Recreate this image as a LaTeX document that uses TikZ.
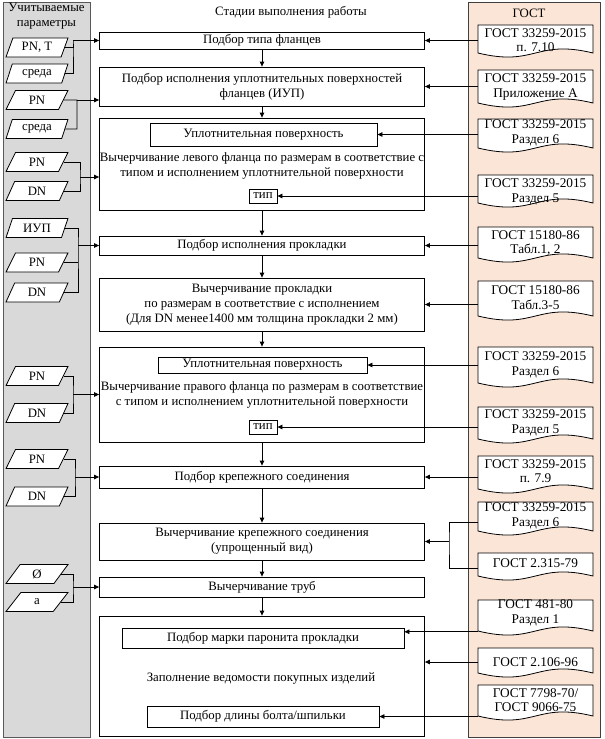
\documentclass[tikz,border=0pt]{standalone}
\usepackage{fontspec}
\setmainfont{Liberation Serif}
\usetikzlibrary{shapes.geometric,arrows.meta,calc}
\definecolor{pgray}{HTML}{D9D9D9}
\definecolor{ppeach}{HTML}{FBE5D6}
\newcommand\gostdoc[5]{%
  \draw[docline] (478,#2) -- (593,#2) -- (593,#3) .. controls (535.5,#3-14) and (535.5,#3+14) .. (478,#3) -- cycle;
  \node[doctext] (#1) at (535.5,#4+0.5) {#5};
}
\begin{document}
\begin{tikzpicture}[x=1pt,y=-1pt,
  font=\fontsize{12.8}{15}\selectfont,
  line width=0.8pt,
  arr/.style={-{Triangle[length=5pt,width=4.5pt]}},
  stage/.style={draw, fill=white, minimum width=325pt, inner sep=0pt, align=center},
  inbox/.style={draw, fill=white, inner sep=0pt, align=center},
  param/.style={trapezium, trapezium left angle=67, trapezium right angle=113, trapezium stretches=true, draw, fill=white, minimum width=62pt, minimum height=19pt, inner sep=0pt},
  doctext/.style={minimum width=115pt, inner sep=0pt, align=center, font=\fontsize{13.3}{14.5}\selectfont},
  docline/.style={draw, fill=white},
  panel/.style={draw, inner sep=0pt},
]
\useasboundingbox (0,0) rectangle (605,739);
% panels
\node[panel, fill=pgray, draw=gray!70!black, minimum width=87pt, minimum height=735pt] (lpanel) at (46.5,369.5) {};
\node[panel, fill=ppeach, draw=black!75, minimum width=132pt, minimum height=735pt] (rpanel) at (534,369.5) {};
\node[align=center, inner sep=0pt] (lt) at (46.5,16.5) {Учитываемые\\параметры};
\node[inner sep=0pt] (mt) at (291,12) {Стадии выполнения работы};
\node[inner sep=0pt] (rt) at (529,13) {ГОСТ};
% stages
\node[stage, minimum height=17pt] (b1) at (262,40.5) {Подбор типа фланцев};
\node[stage, minimum height=39pt] (b2) at (262,86.5) {Подбор исполнения уплотнительных поверхностей\\фланцев (ИУП)};
\node[stage, minimum height=92pt] (b3) at (262,164) {};
\node[stage, minimum height=19pt] (b4) at (262,245.5) {Подбор исполнения прокладки};
\node[stage, minimum height=53pt] (b5) at (262,304.5) {Вычерчивание прокладки\\по размерам в соответствие с исполнением\\(Для DN менее1400 мм толщина прокладки 2 мм)};
\node[stage, minimum height=95pt] (b6) at (262,394.5) {};
\node[stage, minimum height=22pt] (b7) at (262,477) {Подбор крепежного соединения};
\node[stage, minimum height=37pt] (b8) at (262,541.5) {Вычерчивание крепежного соединения\\(упрощенный вид)};
\node[stage, minimum height=20pt] (b9) at (262,587) {Вычерчивание труб};
\node[stage, minimum height=120pt] (b10) at (262,676) {};
% inner items
\node[inbox, minimum width=227pt, minimum height=23pt] (u1) at (263.5,134.5) {Уплотнительная поверхность};
\node[align=center, inner sep=0pt] (t3) at (262,165.5) {Вычерчивание левого фланца по размерам в соответствие с\\типом и исполнением уплотнительной поверхности};
\node[inbox, minimum width=28pt, minimum height=14pt] (k1) at (263,196) {тип};
\node[inbox, minimum width=209pt, minimum height=16pt] (u2) at (262.5,365) {Уплотнительная поверхность};
\node[align=center, inner sep=0pt] (t6) at (262,394.5) {Вычерчивание правого фланца по размерам в соответствие\\с типом и исполнением уплотнительной поверхности};
\node[inbox, minimum width=28pt, minimum height=14pt] (k2) at (263,427) {тип};
\node[inbox, minimum width=282pt, minimum height=20pt] (m1) at (263,638) {Подбор марки паронита прокладки};
\node[inner sep=0pt] (t10) at (261,678) {Заполнение ведомости покупных изделий};
\node[inbox, minimum width=232pt, minimum height=21pt] (m2) at (263,716.5) {Подбор длины болта/шпильки};
% stage flow
\foreach \a/\b in {b1/b2,b2/b3,b3/b4,b4/b5,b5/b6,b6/b7,b7/b8,b8/b9,b9/b10}
  \draw[arr] (\a.south) -- (\b.north);
% parameters
\node[param] (p1) at (37,47.5) {PN, T};
\node[param] (p2) at (37,73.5) {среда};
\node[param] (p3) at (37,100) {PN};
\node[param] (p4) at (37,129) {среда};
\node[param] (p5) at (37,162) {PN};
\node[param] (p6) at (37,191) {DN};
\node[param] (p7) at (37,228) {ИУП};
\node[param] (p8) at (37,262.5) {PN};
\node[param] (p9) at (37,292.5) {DN};
\node[param] (p10) at (37,376) {PN};
\node[param] (p11) at (37,413) {DN};
\node[param] (p12) at (37,459) {PN};
\node[param] (p13) at (37,496.5) {DN};
\node[param] (p14) at (37,574) {Ø};
\node[param] (p15) at (37,602) {a};
\coordinate (j1) at (73,40.5);
\coordinate (j2) at (77,100);
\coordinate (j3) at (80,177);
\coordinate (j4) at (78,245.5);
\coordinate (j5) at (73,394.5);
\coordinate (j6) at (75,477);
\coordinate (j7) at (73,587);
\draw (p1.east) -| (j1) |- (p2.east);
\draw[arr] (j1) -- (b1.west |- j1);
\draw (p3.east) -- (j2) |- (p4.east);
\draw[arr] (j2) -- (b2.west |- j2);
\draw (p5.east) -| (j3) |- (p6.east);
\draw[arr] (j3) -- (b3.west |- j3);
\draw (p7.east) -| (j4) |- (p9.east);
\draw (p8.east) -- (p8.east -| j4);
\draw[arr] (j4) -- (b4.west |- j4);
\draw (p10.east) -| (j5) |- (p11.east);
\draw[arr] (j5) -- (b6.west |- j5);
\draw (p12.east) -| (j6) |- (p13.east);
\draw[arr] (j6) -- (b7.west |- j6);
\draw (p14.east) -| (j7) |- (p15.east);
\draw[arr] (j7) -- (b9.west |- j7);
% documents
\gostdoc{d1}{25}{53}{39.5}{ГОСТ 33259-2015\\п. 7.10}
\gostdoc{d2}{70}{103}{86.5}{ГОСТ 33259-2015\\Приложение А}
\gostdoc{d3}{119}{148}{132.5}{ГОСТ 33259-2015\\Раздел 6}
\gostdoc{d4}{175}{203}{191.5}{ГОСТ 33259-2015\\Раздел 5}
\gostdoc{d5}{227}{258}{242.5}{ГОСТ 15180-86\\Табл.1, 2}
\gostdoc{d6}{281}{316}{297}{ГОСТ 15180-86\\Табл.3-5}
\gostdoc{d7}{347}{383}{364.5}{ГОСТ 33259-2015\\Раздел 6}
\gostdoc{d8}{407}{439}{422.5}{ГОСТ 33259-2015\\Раздел 5}
\gostdoc{d9}{456}{489}{470.5}{ГОСТ 33259-2015\\п. 7.9}
\gostdoc{d10}{502}{531}{515.5}{ГОСТ 33259-2015\\Раздел 6}
\gostdoc{d11}{553}{576}{563}{ГОСТ 2.315-79}
\gostdoc{d12}{600}{631}{612.5}{ГОСТ 481-80\\Раздел 1}
\gostdoc{d13}{648}{673}{661.5}{ГОСТ 2.106-96}
\gostdoc{d14}{685}{716}{699.5}{ГОСТ 7798-70/\\ГОСТ 9066-75}
% document connectors
\draw[arr] (d1.west |- b1.east) -- (b1.east);
\draw[arr] (d2.west |- b2.east) -- (b2.east);
\draw[arr] (d3.west |- u1.east) -- (u1.east);
\draw[arr] (d4.west |- k1.east) -- (k1.east);
\draw[arr] (d5.west |- b4.east) -- (b4.east);
\draw[arr] (d6.west |- b5.east) -- (b5.east);
\draw[arr] (d7.west |- u2.east) -- (u2.east);
\draw[arr] (d8.west |- k2.east) -- (k2.east);
\draw[arr] (d9.west |- b7.east) -- (b7.east);
\coordinate (j8) at (449,541.5);
\draw ($(d10.west)+(0,6)$) -| (j8) |- ($(d11.west)+(0,5)$);
\draw[arr] (j8) -- (b8.east);
\coordinate (m1a) at ($(m1.north east)!0.2!(m1.south east)$);
\draw[arr] (d12.west |- m1a) -- (m1a);
\draw[arr] (d13.west) -- (d13.west -| b10.east);
\draw[arr] (d14.west |- m2.east) -- (m2.east);
\end{tikzpicture}
\end{document}
